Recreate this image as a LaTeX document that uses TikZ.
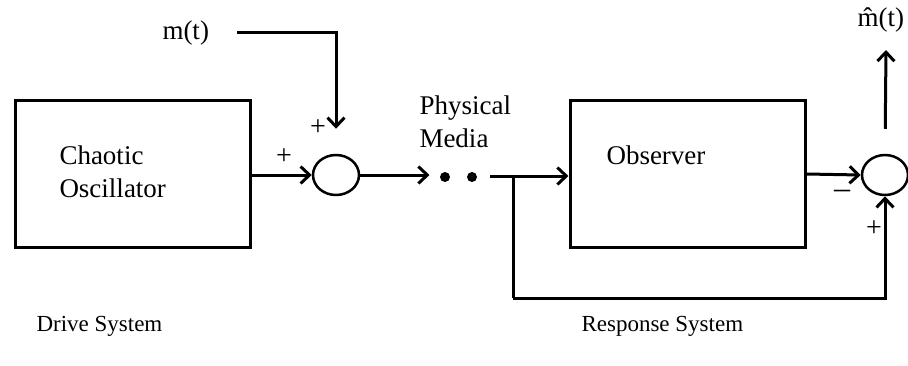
\documentclass[tikz,border=0pt]{standalone}
\usepackage{fontspec}
\setmainfont{Liberation Serif}
\usetikzlibrary{arrows.meta,shapes.geometric}

\tikzset{
  blk/.style={draw,rectangle,minimum width=235pt,minimum height=147pt,inner sep=0pt},
  sumj/.style={draw,ellipse,line width=2.5pt,minimum width=46pt,minimum height=40pt,inner sep=0pt},
  lbl/.style={font=\fontsize{27}{33}\selectfont,align=left,inner sep=0pt},
  sgn/.style={font=\fontsize{28}{28}\selectfont,inner sep=0pt},
  caplbl/.style={font=\fontsize{23}{28}\selectfont,anchor=west,inner sep=0pt},
  dot/.style={circle,fill,inner sep=0pt,minimum size=10pt}
}

\begin{document}
\begin{tikzpicture}[x=1pt,y=-1pt,line width=3pt,>={Straight Barb[length=9pt,width=17pt]}]
\useasboundingbox (0,0) rectangle (908,365);

% drive side
\node[blk] (osc) at (132.5,174) {};
\node[lbl,anchor=west] (osctxt) at (58,172) {Chaotic\\Oscillator};
\node[sumj] (s1) at (336,175) {};
\node[lbl,anchor=west] (m) at (161,33) {m(t)};
\coordinate (min) at (237,32);
\draw[->] (osc.east |- s1) -- (s1.west);
\draw[->,shorten >=25pt] (min) -| (s1.north);
\node[sgn] (p1) at (284,157) {+};
\node[sgn] (p2) at (318,128) {+};

% channel
\node[lbl,anchor=west] (media) at (418,122) {Physical\\Media};
\node[dot] (d1) at (445,177) {};
\node[dot] (d2) at (472,177) {};
\draw[->,shorten >=9pt] (s1.east) -- (d1.west |- s1);

% response side
\node[blk] (obs) at (687.5,174) {};
\node[lbl,anchor=west] (obstxt) at (605,155) {Observer};
\node[sumj] (s2) at (885,175) {};
\coordinate (start) at (490,176);
\coordinate (tap) at (513,176);
\coordinate (bot) at (513,298);
\coordinate (out) at (886,50);
\draw[->] (start) -- (obs.west |- start);
\draw (tap) -- (bot);
\draw[->] (bot) -| (s2.south);
\draw[->] (obs.east) -- (s2.west);
\draw[->,shorten <=25pt] (s2.north) -- (out);
\node[sgn] (mi) at (842,194) {\fontsize{32}{32}\selectfont --};
\node[sgn] (p3) at (874,229) {+};
\node[lbl,anchor=west] (mhat) at (856,20) {\^{m}(t)};

% captions
\node[caplbl] (drv) at (35,326) {Drive System};
\node[caplbl] (rsp) at (580,326) {Response System};
\end{tikzpicture}
\end{document}
